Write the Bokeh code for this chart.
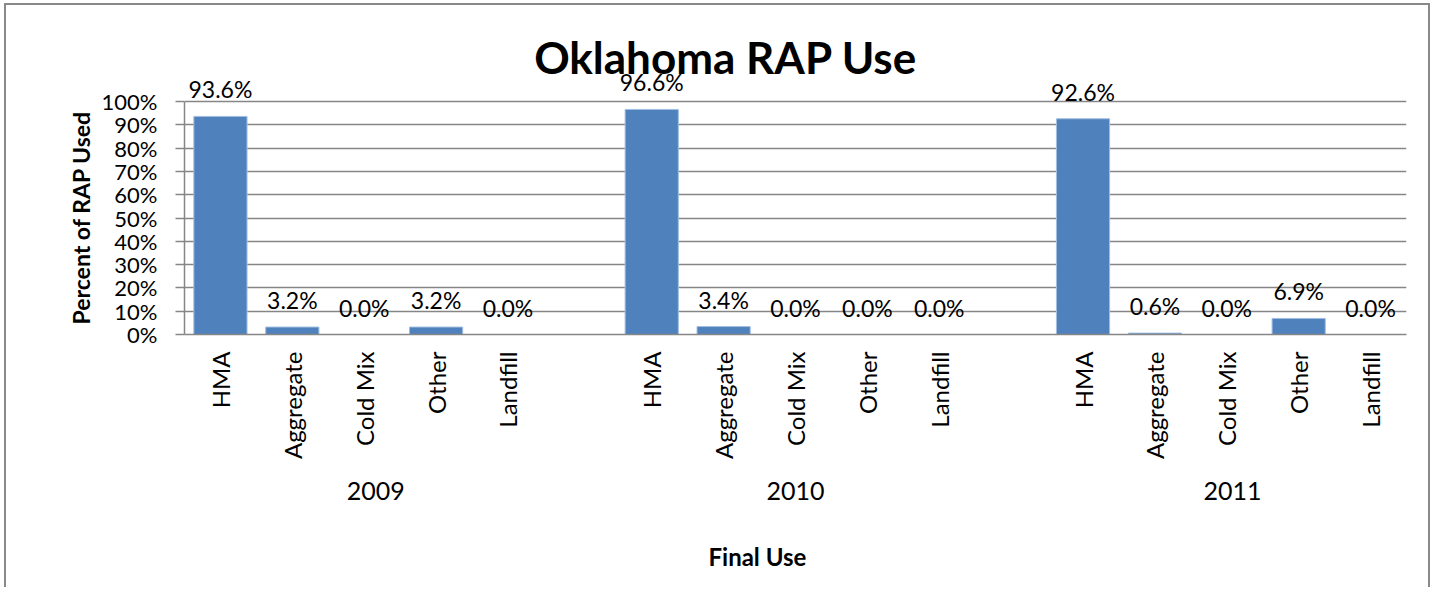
import math
from bokeh.plotting import figure
from bokeh.models import (ColumnDataSource, LabelSet, Label, FixedTicker,
                          PrintfTickFormatter, Range1d, LinearAxis, Title)
from bokeh.core.properties import value
from bokeh.embed import file_html
from bokeh.resources import INLINE

# ---- data ----
years = ["2009", "2010", "2011"]
uses = ["HMA", "Aggregate", "Cold Mix", "Other", "Landfill"]
pct_2009 = [93.6, 3.2, 0.0, 3.2, 0.0]
pct_2010 = [96.6, 3.4, 0.0, 0.0, 0.0]
pct_2011 = [92.6, 0.6, 0.0, 6.9, 0.0]
y_ticks = [0, 10, 20, 30, 40, 50, 60, 70, 80, 90, 100]

FONT = "Lato"
GRAY = "#868686"
BAR = "#4F81BD"

series = [pct_2009, pct_2010, pct_2011]
slots_per_group = len(uses) + 1
xs, vals, lbls, names = [], [], [], []
for g, vg in enumerate(series):
    for i, v in enumerate(vg):
        xs.append(g * slots_per_group + i + 0.5)
        vals.append(v)
        lbls.append(f"{v:.1f}%")
        names.append(uses[i])
n_slots = len(years) * slots_per_group - 1
src = ColumnDataSource(dict(x=xs, v=vals, lbl=lbls, name=names))

W, H = 1426, 584
TOP, BOTTOM_BORDER = 4, 255
frame_h = H - TOP - BOTTOM_BORDER          # px
Y_TOP = 100.0 * frame_h / 233.0            # 100% sits 233 px above 0%

p = figure(width=W, height=H, output_backend="svg", toolbar_location=None,
           title=None,
           x_range=Range1d(0, n_slots), y_range=Range1d(0, Y_TOP),
           min_border_left=178, min_border_right=26, min_border_top=TOP,
           min_border_bottom=BOTTOM_BORDER)
p.styles = {"border-left": "2px solid #898989", "border-top": "2px solid #898989",
            "border-right": "2px solid #898989", "margin": "3px 0 0 4px"}
p.outline_line_color = None
p.background_fill_color = "white"
p.border_fill_color = "white"

p.vbar(x="x", top="v", bottom=0, width=0.74, source=src,
       fill_color=BAR, line_color="#A3BEE0", line_width=1)

# value labels
p.add_layout(LabelSet(x="x", y="v", text="lbl", source=src, y_offset=27,
                      text_align="center", text_baseline="middle",
                      text_font=value(FONT), text_font_size=value("23px"),
                      text_color="black"))

# category axis
xa = p.xaxis[0]
xa.ticker = FixedTicker(ticks=xs)
xa.major_label_overrides = {x: n for x, n in zip(xs, names)}
xa.major_label_orientation = math.pi / 2
xa.major_tick_out = 0
xa.major_tick_in = 0
xa.minor_tick_out = 0
xa.minor_tick_in = 0
xa.axis_line_color = GRAY
xa.axis_line_width = 1.5
xa.major_label_standoff = 17
xa.major_label_text_font = FONT
xa.major_label_text_font_size = "24px"
xa.major_label_text_color = "black"

# year axis (group labels)
year_x = [2.66, 8.50, 14.58]
ya2 = LinearAxis(ticker=FixedTicker(ticks=year_x),
                 major_label_overrides={x: y for x, y in zip(year_x, years)},
                 axis_line_color=None, major_tick_line_color=None,
                 minor_tick_line_color=None, major_label_standoff=13,
                 major_label_text_font=FONT, major_label_text_font_size="25px",
                 major_label_text_color="black",
                 axis_label=" ", axis_label_standoff=10,
                 axis_label_text_font_size="20px")
p.add_layout(ya2, "below")

# x axis title
p.add_layout(Title(text="Final Use", align="left", offset=524, standoff=4,
                   text_font=FONT, text_font_size="24px", text_font_style="bold",
                   text_color="black"), "below")

ya = p.yaxis[0]
ya.ticker = FixedTicker(ticks=y_ticks)
ya.bounds = (0, 100)
ya.formatter = PrintfTickFormatter(format="%d%%")
ya.major_tick_out = 9
ya.major_tick_in = 0
ya.minor_tick_out = 0
ya.minor_tick_in = 0
ya.axis_line_color = GRAY
ya.axis_line_width = 1.5
ya.major_tick_line_color = GRAY
ya.major_tick_line_width = 1.5
ya.major_label_standoff = 18
ya.major_label_text_font = FONT
ya.major_label_text_font_size = "22px"
ya.major_label_text_color = "black"

p.add_layout(Title(text="Percent of RAP Used", align="left", offset=10, standoff=8,
                   text_font=FONT, text_font_size="23px", text_font_style="bold",
                   text_color="black"), "left")

p.xgrid.visible = False
p.ygrid.ticker = FixedTicker(ticks=y_ticks)
p.ygrid.grid_line_color = GRAY
p.ygrid.grid_line_width = 1.5

# chart title
p.add_layout(Label(x=7.53, y=119.3, text="Oklahoma RAP Use", text_align="center",
                   text_baseline="middle", text_font=FONT, text_font_size="44px",
                   text_font_style="bold", text_color="black"))

open("out.html", "w").write(file_html(p, INLINE))
